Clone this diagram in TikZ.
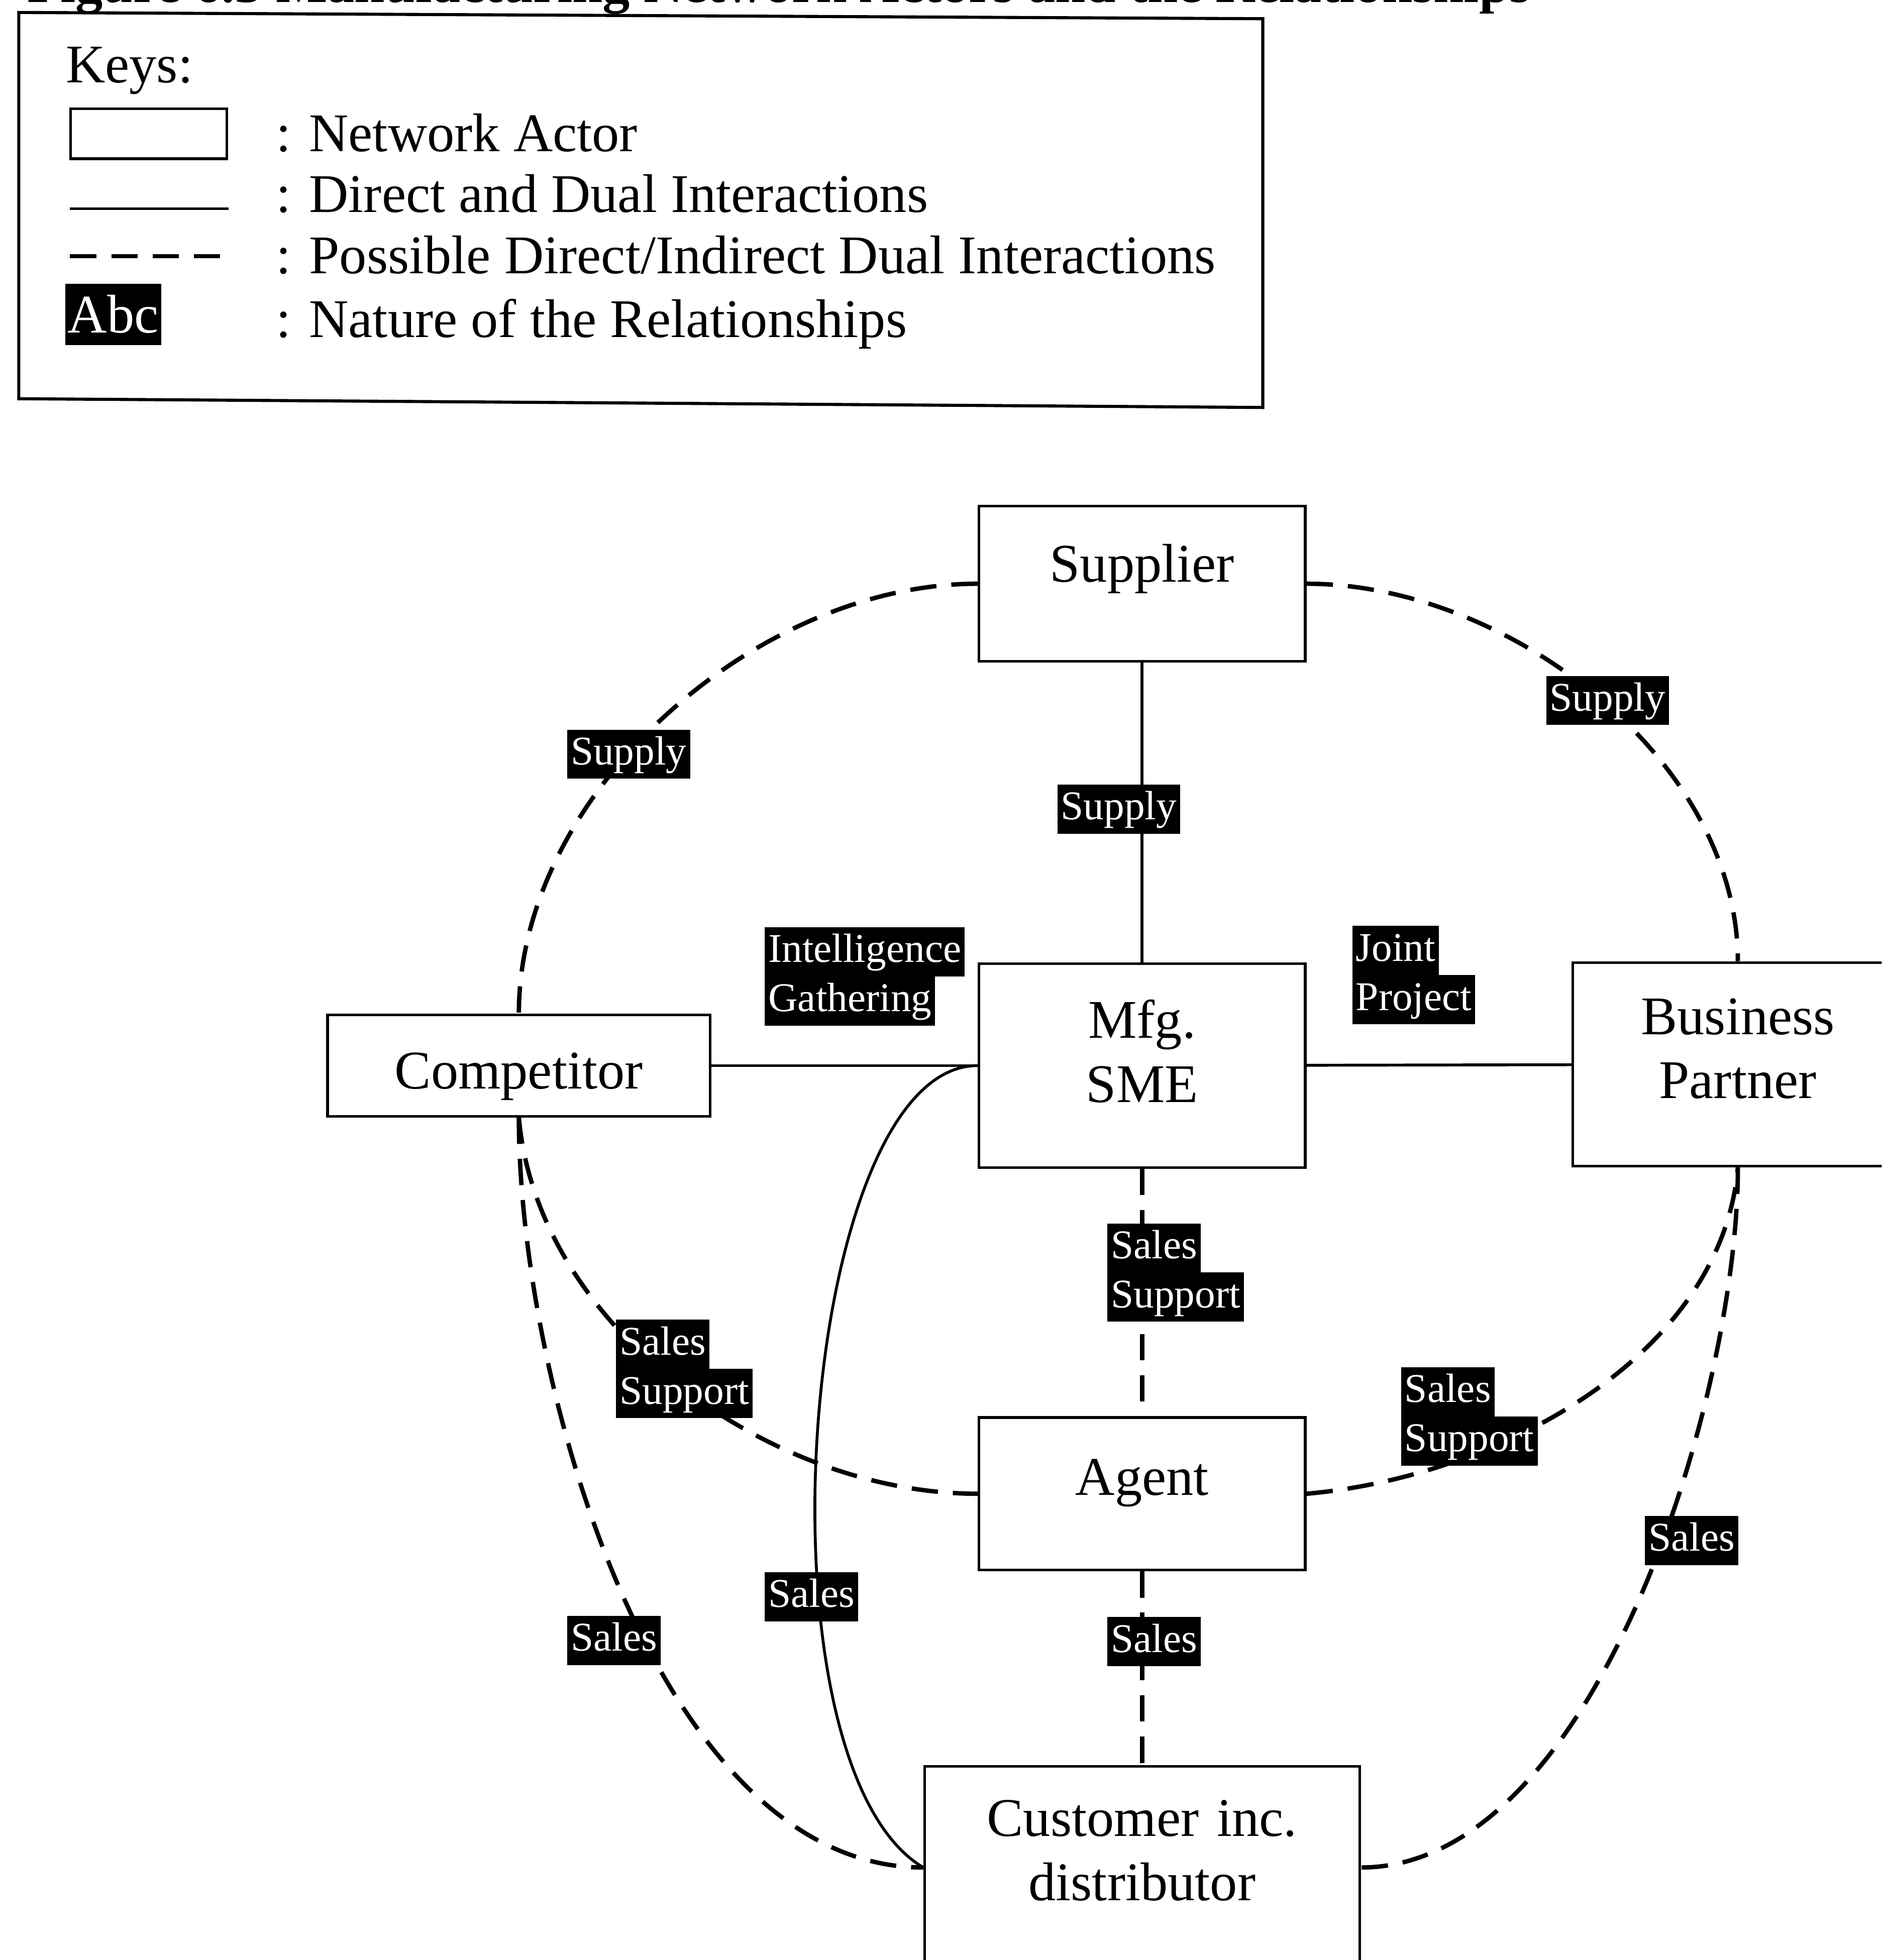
\documentclass[tikz,border=0pt]{standalone}
\usepackage{fontspec}
\setmainfont{Liberation Serif}
\usepackage{xcolor}

% white-on-black relationship tags
\newcommand{\tagline}[1]{{\setlength{\fboxsep}{0.8pt}\colorbox{black}{\textcolor{white}{\rule[-2.4pt]{0pt}{9.6pt}#1}}}}
\newcommand{\tagpair}[2]{\vbox{\offinterlineskip\hbox{\tagline{#1}}\hbox{\tagline{#2}}}}

\begin{document}
\begin{tikzpicture}[
    actor/.style={draw, line width=0.6pt, inner sep=0pt, align=center, minimum width=#1, text width=#1, text height=0.35cm, font=\fontsize{12.4}{14.6}\selectfont},
    tag/.style={inner sep=0pt, anchor=north west, font=\fontsize{9.3}{11}\selectfont},
    keytext/.style={anchor=base west, inner sep=0pt, font=\fontsize{12.4}{14.6}\selectfont},
    link/.style={line width=0.65pt},
    maybe/.style={line width=1pt, dash pattern=on 6pt off 3.4pt},
]
\useasboundingbox (0,0) rectangle (15.05,15.68);
\clip (0,0) rectangle (15.05,15.68);

% Title (cut off by the page edge)
\node[anchor=base east, inner sep=0pt, font=\bfseries\fontsize{12.4}{14.6}\selectfont] (title) at (12.25,15.66) {Figure 6.3 Manufacturing Network Actors and the Relationships};

% Keys
\draw[line width=0.7pt] (0.15,15.58) -- (10.10,15.53) -- (10.10,12.42) -- (0.15,12.49) -- cycle;
\node[keytext] (keys) at (0.52,15.02) {Keys:};
\node[draw, line width=0.6pt, minimum width=1.25cm, minimum height=0.40cm, inner sep=0pt] (keyactor) at (1.19,14.61) {};
\coordinate (kd1) at (0.56,14.01);
\coordinate (kd2) at (1.83,14.01);
\coordinate (kp1) at (0.56,13.63);
\coordinate (kp2) at (1.83,13.63);
\draw[link] (kd1) -- (kd2);
\draw[maybe] (kp1) -- (kp2);
\node[fill=black, text=white, inner xsep=0.6pt, inner ysep=0pt, minimum height=0.49cm, font=\fontsize{12.4}{14.6}\selectfont] (keytag) at (0.905,13.165) {Abc};
\node[keytext] (keyactortxt) at (2.20,14.47) {: Network Actor};
\node[keytext] (keydirect) at (2.20,13.98) {: Direct and Dual Interactions};
\node[keytext] (keypossible) at (2.20,13.49) {: Possible Direct/Indirect Dual Interactions};
\node[keytext] (keynature) at (2.20,12.98) {: Nature of the Relationships};

% Network actors
\node[actor=2.61cm, minimum height=1.24cm, text depth=0.38cm] (sup) at (9.135,11.01) {Supplier};
\node[actor=2.61cm, minimum height=1.63cm, text depth=0.79cm] (mfg) at (9.135,7.155) {Mfg.\\SME};
\node[actor=3.06cm, minimum height=0.81cm, text height=0.37cm, text depth=0cm] (comp) at (4.15,7.155) {Competitor};
\node[actor=2.64cm, minimum height=1.63cm, text depth=0.83cm] (bp) at (13.90,7.165) {Business\\Partner};
\node[actor=2.61cm, minimum height=1.22cm, text depth=0.33cm] (agent) at (9.135,3.73) {Agent};
\node[actor=3.48cm, minimum height=1.62cm, text depth=0.85cm] (cust) at (9.135,0.74) {Customer inc.\\distributor};

% Direct and dual interactions
\draw[link] (sup) -- (mfg);
\draw[link] (comp) -- (mfg);
\draw[link] (mfg) -- (bp);
\draw[link] (mfg.west) .. controls +(-1.43,0) and +(-1.40,0.84) .. (cust.west);

% Possible direct/indirect interactions
\draw[maybe] (mfg) -- (agent);
\draw[maybe] (agent) -- (cust);
\draw[maybe] (sup.west) to[out=180, in=90, looseness=0.9] (comp.north);
\draw[maybe] (sup.east) to[out=0, in=90, looseness=0.9] (bp.north);
\draw[maybe] (comp.south) to[out=-85, in=180, looseness=0.9] (agent.west);
\draw[maybe] (comp.south) to[out=-90, in=180, looseness=0.8] (cust.west);
\draw[maybe] (agent.east) to[out=5, in=-95, looseness=0.9] (bp.south);
\draw[maybe] (bp.south) to[out=-90, in=0, looseness=0.75] (cust.east);

% Nature of the relationships
\node[tag] (supl) at (4.53,9.85) {\tagline{Supply}};
\node[tag] (supm) at (8.45,9.41) {\tagline{Supply}};
\node[tag] (supr) at (12.36,10.28) {\tagline{Supply}};
\node[tag] (intel) at (6.11,8.27) {\tagpair{Intelligence}{Gathering}};
\node[tag] (joint) at (10.81,8.28) {\tagpair{Joint}{Project}};
\node[tag] (ssm) at (8.85,5.90) {\tagpair{Sales}{Support}};
\node[tag] (ssl) at (4.92,5.13) {\tagpair{Sales}{Support}};
\node[tag] (ssr) at (11.20,4.75) {\tagpair{Sales}{Support}};
\node[tag] (salesl) at (4.53,2.76) {\tagline{Sales}};
\node[tag] (salesc) at (6.11,3.11) {\tagline{Sales}};
\node[tag] (salesm) at (8.85,2.75) {\tagline{Sales}};
\node[tag] (salesr) at (13.15,3.56) {\tagline{Sales}};

\end{tikzpicture}
\end{document}
